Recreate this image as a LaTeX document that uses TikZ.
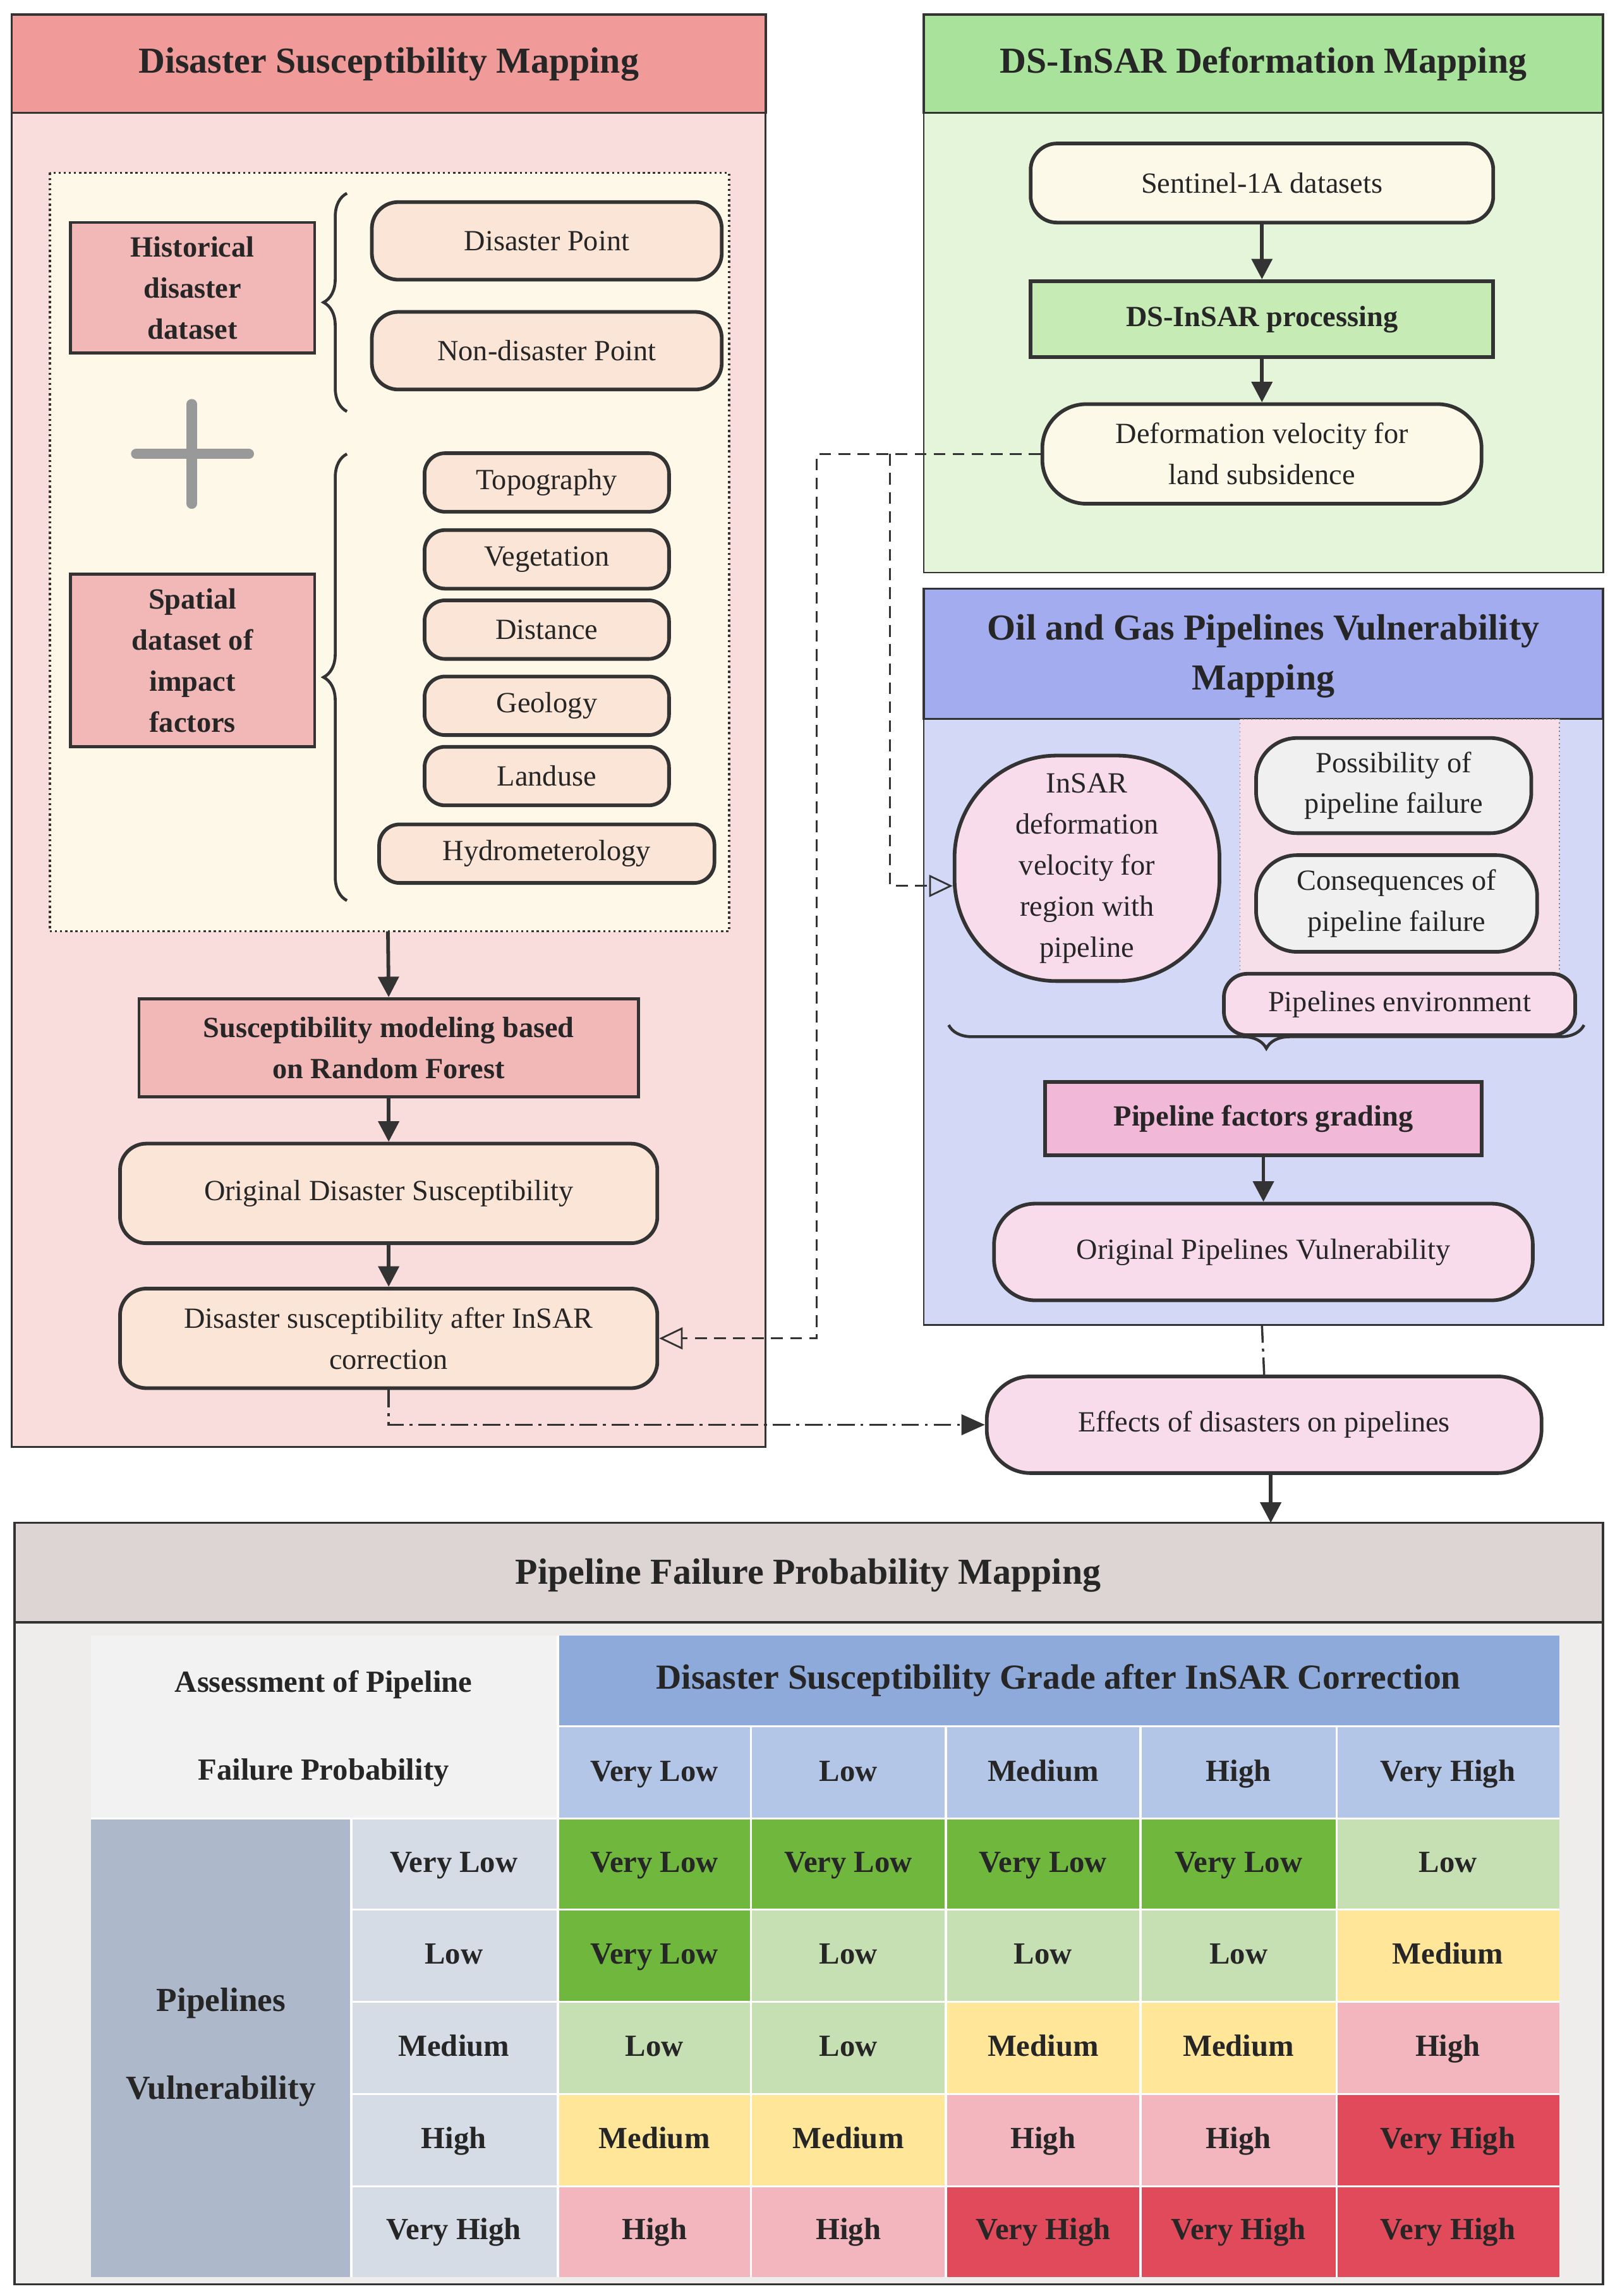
\documentclass[tikz,border=0pt]{standalone}
\usepackage{fontspec}
\setmainfont{Liberation Serif}
\usetikzlibrary{arrows.meta,decorations.pathreplacing}
\definecolor{edge}{HTML}{333333}
\definecolor{cVL}{HTML}{70B73E}
\definecolor{cL}{HTML}{C6E0B4}
\definecolor{cM}{HTML}{FFE699}
\definecolor{cH}{HTML}{F4B6BE}
\definecolor{cVH}{HTML}{E04A5A}
\def\tVL{Very Low}\def\tL{Low}\def\tM{Medium}\def\tH{High}\def\tVH{Very High}
\begin{document}
\begin{tikzpicture}[x=1pt,y=-1pt,
  txt/.style={font=\fontsize{20}{28}\selectfont,align=center,text=black!85},
  hd/.style={font=\bfseries\fontsize{25}{34}\selectfont,align=center,text=black!85},
  rbox/.style={txt,draw=edge,line width=2.5pt,rounded corners=18pt,inner sep=0pt},
  sbox/.style={txt,font=\bfseries\fontsize{20}{28}\selectfont,draw=edge,line width=2pt,inner sep=0pt},
  arr/.style={-{Triangle[length=14pt,width=14pt]},line width=2.5pt,draw=edge},
  oarr/.style={-{Triangle[open,length=16pt,width=15pt]},line width=1.2pt,draw=edge,dashed,dash pattern=on 8pt off 5pt},
  dd/.style={line width=1.5pt,draw=edge,dash pattern=on 12pt off 4pt on 2pt off 4pt},
  tab/.style={font=\bfseries\fontsize{21}{26}\selectfont,text=black!85,text height=15pt,text depth=4pt},
  brace/.style={decorate,decoration={brace,amplitude=16pt},line width=2pt,draw=edge}]
\useasboundingbox (0,0) rectangle (1103,1568);
\fill[white] (0,0) rectangle (1103,1568);
% ---------- Left panel
\draw[fill={rgb,255:red,249;green,220;blue,220},draw=edge,line width=1.2pt] (8,10) rectangle (523,988);
\draw[fill={rgb,255:red,241;green,154;blue,154},draw=edge,line width=1.5pt] (8,10) rectangle (523,77);
\node[hd] (h1) at (265.5,44) {Disaster Susceptibility Mapping};
\draw[fill={rgb,255:red,253;green,248;blue,232},draw=edge,line width=1.5pt,dotted] (34,118) rectangle (498,636);
\node[sbox,fill={rgb,255:red,242;green,184;blue,184},minimum width=167pt,minimum height=89pt] (hist) at (131.5,196.5) {Historical\\disaster\\dataset};
\node[rbox,fill={rgb,255:red,251;green,229;blue,214},minimum width=239pt,minimum height=53pt] (dp) at (373.5,164.5) {Disaster Point};
\node[rbox,fill={rgb,255:red,251;green,229;blue,214},minimum width=239pt,minimum height=53pt] (ndp) at (373.5,239.5) {Non-disaster Point};
\draw[brace] (237,281) -- (237,132);
\draw[line width=7pt,draw=gray!80,line cap=round] (93,310) -- (170,310) (131,276) -- (131,344);
\node[sbox,fill={rgb,255:red,242;green,184;blue,184},minimum width=167pt,minimum height=118pt] (spat) at (131.5,451) {Spatial\\dataset of\\impact\\factors};
\draw[brace] (237,615) -- (237,310);
\foreach \n/\t/\y in {topo/Topography/329.5,veg/Vegetation/382,dist/Distance/430,geo/Geology/482,land/Landuse/530}
  \node[rbox,rounded corners=14pt,fill={rgb,255:red,251;green,229;blue,214},minimum width=167pt,minimum height=40pt] (\n) at (373.5,\y) {\t};
\node[rbox,rounded corners=14pt,fill={rgb,255:red,251;green,229;blue,214},minimum width=229pt,minimum height=40pt] (hyd) at (373.5,583) {Hydrometerology};
\coordinate (dotb) at (265,636);
\node[sbox,fill={rgb,255:red,242;green,184;blue,184},minimum width=341pt,minimum height=67pt] (rf) at (265.5,715.5) {Susceptibility modeling based\\on Random Forest};
\draw[arr] (dotb) -- (rf.north);
\node[rbox,fill={rgb,255:red,251;green,229;blue,214},minimum width=367pt,minimum height=68pt] (ods) at (265.5,815) {Original Disaster Susceptibility};
\node[rbox,fill={rgb,255:red,251;green,229;blue,214},minimum width=367pt,minimum height=68pt] (ads) at (265.5,914) {Disaster susceptibility after InSAR\\correction};
\draw[arr] (rf.south) -- (ods.north);
\draw[arr] (ods.south) -- (ads.north);
% ---------- Green panel
\draw[fill={rgb,255:red,229;green,245;blue,218},draw=edge,line width=1.2pt] (631,10) rectangle (1095,391);
\draw[fill={rgb,255:red,169;green,226;blue,154},draw=edge,line width=1.5pt] (631,10) rectangle (1095,77);
\node[hd] (h2) at (863,44) {DS-InSAR Deformation Mapping};
\node[rbox,fill={rgb,255:red,253;green,249;blue,232},minimum width=316pt,minimum height=54pt] (sen) at (862,125) {Sentinel-1A datasets};
\node[sbox,line width=2.5pt,fill={rgb,255:red,198;green,235;blue,181},minimum width=316pt,minimum height=52pt] (dsp) at (862,218) {DS-InSAR processing};
\node[rbox,rounded corners=30pt,fill={rgb,255:red,253;green,249;blue,232},minimum width=300pt,minimum height=68pt] (dv) at (862,310) {Deformation velocity for\\land subsidence};
\draw[arr] (sen.south) -- (dsp.north);
\draw[arr] (dsp.south) -- (dv.north);
% ---------- Blue panel
\draw[fill={rgb,255:red,211;green,216;blue,246},draw=edge,line width=1.2pt] (631,402) rectangle (1095,905);
\draw[fill={rgb,255:red,163;green,172;blue,238},draw=edge,line width=1.5pt] (631,402) rectangle (1095,491);
\node[hd] (h3) at (863,448) {Oil and Gas Pipelines Vulnerability\\Mapping};
\draw[fill={rgb,255:red,247;green,223;blue,234},draw=gray,line width=0.8pt,dotted] (847,491) rectangle (1065,665);
\node[rbox,rounded corners=70pt,fill={rgb,255:red,248;green,220;blue,235},minimum width=181pt,minimum height=154pt] (ins) at (742.5,593) {InSAR\\deformation\\velocity for\\region with\\pipeline};
\node[rbox,rounded corners=28pt,fill={rgb,255:red,240;green,240;blue,240},minimum width=188pt,minimum height=65pt] (pos) at (952,536.5) {Possibility of\\pipeline failure};
\node[rbox,rounded corners=28pt,fill={rgb,255:red,240;green,240;blue,240},minimum width=192pt,minimum height=66pt] (con) at (954,617) {Consequences of\\pipeline failure};
\node[rbox,rounded corners=16pt,fill={rgb,255:red,248;green,220;blue,235},minimum width=240pt,minimum height=42pt] (env) at (956,686) {Pipelines environment};
\draw[brace] (1082,700) -- (648,700);
\node[sbox,line width=2.5pt,fill={rgb,255:red,242;green,184;blue,216},minimum width=298pt,minimum height=50pt] (pfg) at (863,764) {Pipeline factors grading};
\node[rbox,rounded corners=28pt,fill={rgb,255:red,248;green,220;blue,235},minimum width=368pt,minimum height=66pt] (opv) at (863,855) {Original Pipelines Vulnerability};
\draw[arr] (pfg.south) -- (opv.north);
% ---------- Effects
\node[rbox,rounded corners=30pt,fill={rgb,255:red,248;green,220;blue,235},minimum width=379pt,minimum height=66pt] (eff) at (863.5,973) {Effects of disasters on pipelines};
\draw[dd] (862,905) -- (eff.north);
\draw[dd,-{Triangle[length=16pt,width=14pt]}] (ads.south) |- (eff.west);
\draw[oarr] (dv.west) -- (558,310) -- (558,914) -- (ads.east);
\draw[oarr] (608,310) -- (608,605) -- (ins.west |- 0,605);
% ---------- Bottom panel
\coordinate (pt) at (868,1040);
\draw[arr] (eff.south -| pt) -- (pt);
\draw[fill={rgb,255:red,239;green,237;blue,235},draw=edge,line width=1.5pt] (10,1040) rectangle (1095,1560);
\draw[fill={rgb,255:red,220;green,213;blue,211},draw=edge,line width=1.5pt] (10,1040) rectangle (1095,1108);
\node[hd] (h4) at (552,1076) {Pipeline Failure Probability Mapping};
\fill[fill={rgb,255:red,242;green,242;blue,242}] (62,1117) rectangle (381,1242);
\node[tab] at (221,1150) {Assessment of Pipeline};
\node[tab] at (221,1210) {Failure Probability};
\fill[fill={rgb,255:red,142;green,170;blue,219}] (381,1117) rectangle (1065,1179);
\node[tab,font=\bfseries\fontsize{24}{28}\selectfont] at (723,1148) {Disaster Susceptibility Grade after InSAR Correction};
\foreach \x/\xe/\t in {381/513/Very Low,513/646/Low,646/779/Medium,779/913/High,913/1065/Very High}{
  \fill[fill={rgb,255:red,180;green,198;blue,231}] (\x,1179) rectangle (\xe,1242);
  \node[tab] at ({(\x+\xe)/2},1211) {\t};}
\fill[fill={rgb,255:red,173;green,185;blue,202}] (62,1242) rectangle (240,1555);
\node[tab,font=\bfseries\fontsize{23}{60}\selectfont,align=center,text height=,text depth=] at (151,1398) {Pipelines\\Vulnerability};
\foreach \y/\ye/\t/\a/\b/\c/\d/\e in {1242/1304/Very Low/VL/VL/VL/VL/L,1304/1367/Low/VL/L/L/L/M,1367/1430/Medium/L/L/M/M/H,1430/1493/High/M/M/H/H/VH,1493/1555/Very High/H/H/VH/VH/VH}{
  \fill[fill={rgb,255:red,214;green,220;blue,229}] (240,\y) rectangle (381,\ye);
  \node[tab] at (310,{(\y+\ye)/2}) {\t};
  \foreach \x/\xe/\g in {381/513/\a,513/646/\b,646/779/\c,779/913/\d,913/1065/\e}{
    \fill[fill=c\g] (\x,\y) rectangle (\xe,\ye);
    \node[tab] at ({(\x+\xe)/2},{(\y+\ye)/2}) {\csname t\g\endcsname};}}
\foreach \x in {381,513,646,779,913} \draw[white,line width=1.5pt] (\x,1179) -- (\x,1555);
\draw[white,line width=1.5pt] (240,1242) -- (240,1555);
\foreach \y in {1242,1304,1367,1430,1493} \draw[white,line width=1.5pt] (240,\y) -- (1065,\y);
\draw[white,line width=1.5pt] (381,1179) -- (1065,1179);
\draw[white,line width=1.5pt] (62,1242) -- (240,1242) (381,1117) -- (381,1179);
\end{tikzpicture}
\end{document}
